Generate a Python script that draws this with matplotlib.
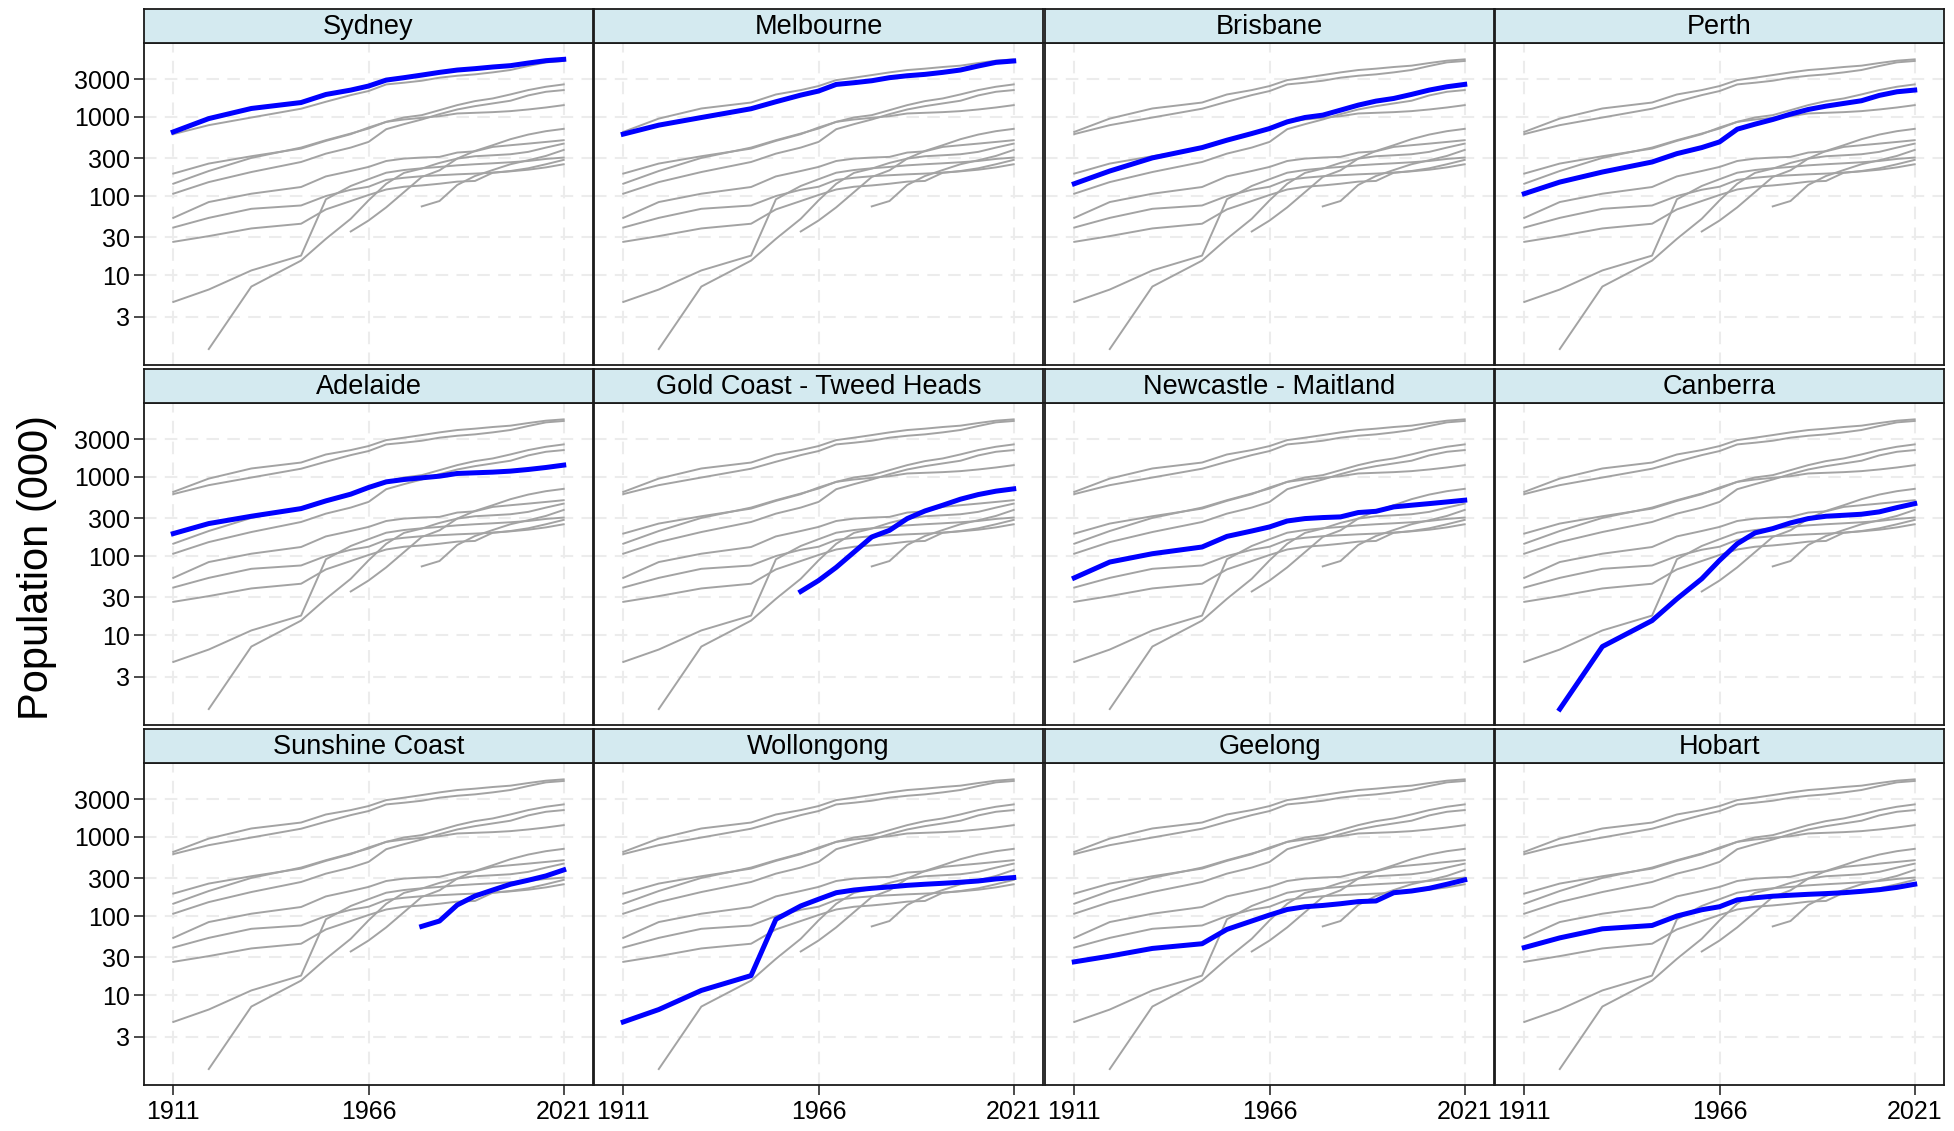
import numpy as np
import matplotlib.pyplot as plt

plt.rcParams['font.family'] = ['Liberation Sans', 'DejaVu Sans']

nan = np.nan
years = [1911, 1921, 1933, 1947, 1954, 1961, 1966, 1971, 1976, 1981,
         1986, 1991, 1996, 2001, 2006, 2011, 2016, 2021]

# population in thousands, one list per urban area (nan = not counted yet)
sydney = [645, 950, 1275, 1515, 1915, 2175, 2445, 2910, 3120, 3365,
          3640, 3895, 4055, 4255, 4425, 4775, 5115, 5315]
melbourne = [605, 785, 980, 1265, 1550, 1880, 2115, 2565, 2695, 2855,
             3120, 3300, 3435, 3640, 3900, 4380, 4870, 5070]
brisbane = [143, 207, 303, 409, 507, 615, 711, 864, 981, 1050,
            1214, 1405, 1579, 1706, 1918, 2176, 2397, 2567]
perth = [107, 150, 201, 269, 343, 409, 482, 698, 808, 925,
         1081, 1238, 1364, 1476, 1596, 1863, 2071, 2176]
adelaide = [192, 257, 318, 397, 497, 604, 733, 864, 925, 971,
            1019, 1102, 1124, 1146, 1180, 1238, 1312, 1405]
gold_coast = [nan, nan, nan, nan, nan, 35.7, 49, 72, 112, 174,
              211, 297, 371, 438, 522, 597, 659, 705]
newcastle = [53, 84, 107, 130, 177, 207, 233, 277, 297, 306,
             312, 354, 367, 417, 438, 459, 482, 507]
canberra = [nan, 1.17, 7.2, 15.3, 28.8, 51.6, 88, 143, 196, 222,
            262, 297, 318, 327, 337, 361, 409, 459]
sunshine_coast = [nan, nan, nan, nan, nan, nan, nan, nan, nan, 74,
                  86.5, 138, 179, 213, 252, 283, 321, 382]
wollongong = [4.6, 6.6, 11.5, 17.7, 91, 134, 163, 197, 213, 224,
              233, 244, 252, 259, 267, 277, 294, 306]
geelong = [26.4, 31.2, 39, 44.7, 67.8, 86.5, 103, 121, 131, 136,
           143, 152, 155, 197, 207, 224, 252, 286]
hobart = [40, 53, 69, 76, 100, 120, 131, 160, 170, 178,
          183, 188, 192, 197, 205, 215, 230, 252]

cities = ['Sydney', 'Melbourne', 'Brisbane', 'Perth',
          'Adelaide', 'Gold Coast - Tweed Heads', 'Newcastle - Maitland', 'Canberra',
          'Sunshine Coast', 'Wollongong', 'Geelong', 'Hobart']
series = [sydney, melbourne, brisbane, perth,
          adelaide, gold_coast, newcastle, canberra,
          sunshine_coast, wollongong, geelong, hobart]

y_ticks = [3, 10, 30, 100, 300, 1000, 3000]
x_ticks = [1911, 1966, 2021]

W, H = 1954, 1131
fig = plt.figure(figsize=(W / 100, H / 100), dpi=100)

col_left = [144, 594, 1045, 1495]
panel_top = [43, 403, 763]
strip_top = [9, 369, 729]
pw, ph, sh = 449, 322, 34

for k, (city, pop) in enumerate(zip(cities, series)):
    r, c = divmod(k, 4)
    ax = fig.add_axes([col_left[c] / W, 1 - (panel_top[r] + ph) / H, pw / W, ph / H])
    for other in series:
        ax.plot(years, other, color='#a3a3a3', lw=1.4, zorder=2)
    ax.plot(years, pop, color='#0000ff', lw=3.6, zorder=3)

    ax.set_yscale('log')
    ax.set_xlim(1902.75, 2029.25)
    ax.set_ylim(0.736, 8550)
    ax.set_yticks(y_ticks)
    ax.set_yticklabels([str(t) for t in y_ticks])
    ax.minorticks_off()
    ax.set_xticks(x_ticks)
    ax.set_xticklabels([str(t) for t in x_ticks])
    ax.grid(True, color='#ececec', lw=1.5, linestyle=(0, (6, 4)), zorder=0)
    ax.set_axisbelow(True)
    for s in ax.spines.values():
        s.set_linewidth(1.3)
        s.set_color('#1a1a1a')
    ax.tick_params(axis='both', length=7, width=1.1, color='#1a1a1a',
                   labelsize=18, labelcolor='black')
    ax.tick_params(axis='x', pad=4)
    ax.tick_params(axis='y', pad=3)
    if c != 0:
        ax.tick_params(axis='y', left=False, labelleft=False)
    if r != 2:
        ax.tick_params(axis='x', bottom=False, labelbottom=False)

    # facet strip above the panel
    st = fig.add_axes([col_left[c] / W, 1 - (strip_top[r] + sh) / H, pw / W, sh / H])
    st.set_facecolor('#d4eaf0')
    st.set_xticks([])
    st.set_yticks([])
    for s in st.spines.values():
        s.set_linewidth(1.3)
        s.set_color('#1a1a1a')
    st.text(0.5, 0.46, city, ha='center', va='center', fontsize=19.5,
            transform=st.transAxes)

fig.text(37 / W, 1 - 568 / H, 'Population (000)', rotation=90,
         ha='center', va='center', fontsize=30)

fig.savefig('out.png', dpi=100, facecolor='white')
